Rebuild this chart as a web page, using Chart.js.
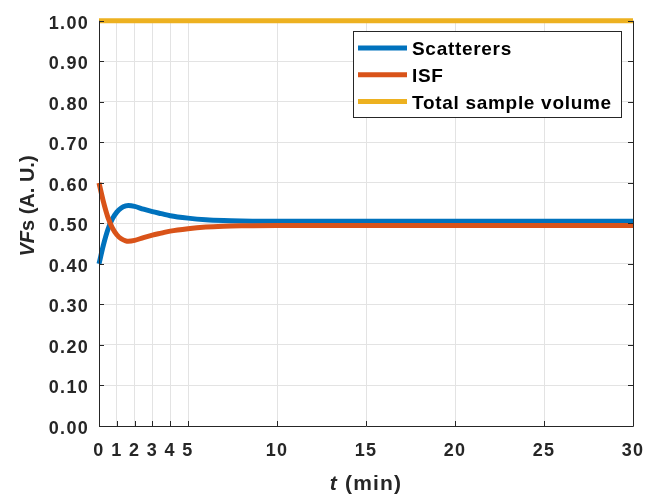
<!DOCTYPE html>
<html>
<head>
<meta charset="utf-8">
<script src="https://cdn.jsdelivr.net/npm/chart.js@4"></script>
<style>
    html, body { margin: 0; padding: 0; background: #ffffff; }
    #wrap { width: 660px; height: 497px; }
</style>
</head>
<body>
<div id="wrap"><canvas id="chart" width="660" height="497"></canvas></div>
<script>
const timeMin = [0, 0.25, 0.5, 0.75, 1, 1.25, 1.5, 1.65, 2, 2.5, 3, 3.5, 4, 5, 6, 7, 8, 10, 15, 20, 25, 30];
const scatterers = [0.400, 0.447, 0.485, 0.511, 0.528, 0.538, 0.543, 0.544, 0.542, 0.535, 0.529, 0.524, 0.519, 0.513, 0.509, 0.507, 0.506, 0.505, 0.505, 0.505, 0.505, 0.505];
const isf = [0.600, 0.553, 0.515, 0.489, 0.472, 0.462, 0.457, 0.456, 0.458, 0.465, 0.471, 0.476, 0.481, 0.487, 0.491, 0.493, 0.494, 0.495, 0.495, 0.495, 0.495, 0.495];
const totalVolume = [1, 1, 1, 1, 1, 1, 1, 1, 1, 1, 1, 1, 1, 1, 1, 1, 1, 1, 1, 1, 1, 1];
const seriesNames = ['Scatterers', 'ISF', 'Total sample volume'];
const seriesColors = ['#0072BD', '#D95319', '#EDB120'];
const xTicks = [0, 1, 2, 3, 4, 5, 10, 15, 20, 25, 30];
const yTicks = [0, 0.1, 0.2, 0.3, 0.4, 0.5, 0.6, 0.7, 0.8, 0.9, 1.0];

const textColor = '#262626';
const fontFamily = '"Liberation Sans", Arial, sans-serif';

function toPoints(values) {
    return timeMin.map((t, i) => ({ x: t, y: values[i] }));
}

// the reference text is a bit wider than Liberation, so space it out
const wideText = {
    id: 'wideText',
    beforeDraw(chart) {
        chart.ctx.letterSpacing = '1.3px';
    }
};

// axis titles, inner ticks, box and legend, drawn the matlab way
const matlabBits = {
    id: 'matlabBits',
    afterDatasetsDraw(chart) {
        const c = chart.ctx;
        const area = chart.chartArea;
        const xs = chart.scales.x;
        const ys = chart.scales.y;

        c.save();
        c.strokeStyle = textColor;
        c.lineWidth = 1;
        c.beginPath();
        c.moveTo(area.left + 0.5, area.top);
        c.lineTo(area.left + 0.5, area.bottom + 0.5);
        c.lineTo(area.right + 0.5, area.bottom + 0.5);
        c.lineTo(area.right + 0.5, area.top);
        yTicks.forEach(v => {
            const y = Math.round(ys.getPixelForValue(v)) + 0.5;
            c.moveTo(area.left, y);
            c.lineTo(area.left + 5, y);
            c.moveTo(area.right, y);
            c.lineTo(area.right - 5, y);
        });
        xTicks.forEach(v => {
            const x = Math.round(xs.getPixelForValue(v)) + 0.5;
            c.moveTo(x, area.bottom);
            c.lineTo(x, area.bottom - 5);
        });
        c.stroke();

        // legend box
        const lx = 353, ly = 31, lw = 268, lh = 86;
        c.fillStyle = '#ffffff';
        c.fillRect(lx, ly, lw, lh);
        c.strokeStyle = '#262626';
        c.strokeRect(lx + 0.5, ly + 0.5, lw, lh);
        c.font = 'bold 19px ' + fontFamily;
        c.letterSpacing = '0.7px';
        c.textBaseline = 'middle';
        c.textAlign = 'left';
        seriesNames.forEach((name, i) => {
            const y = 48 + i * 26.7;
            c.strokeStyle = seriesColors[i];
            c.lineWidth = 5;
            c.beginPath();
            c.moveTo(lx + 5, y);
            c.lineTo(lx + 54, y);
            c.stroke();
            c.fillStyle = '#000000';
            c.fillText(name, lx + 59, y + 2);
        });

        // x title: italic t + (min)
        c.fillStyle = textColor;
        c.letterSpacing = '1.2px';
        const xTitleY = 484;
        c.font = 'italic bold 21px ' + fontFamily;
        const tW = c.measureText('t').width;
        c.font = 'bold 21px ' + fontFamily;
        const restX = ' (min)';
        const rW = c.measureText(restX).width;
        let x0 = (area.left + area.right) / 2 - (tW + rW) / 2;
        c.font = 'italic bold 21px ' + fontFamily;
        c.fillText('t', x0, xTitleY);
        c.font = 'bold 21px ' + fontFamily;
        c.fillText(restX, x0 + tW, xTitleY);

        // y title: italic VF + s (A. U.)
        c.letterSpacing = '0px';
        c.translate(28, 206);
        c.rotate(-Math.PI / 2);
        c.font = 'italic bold 20px ' + fontFamily;
        const vfW = c.measureText('VF').width;
        c.font = 'bold 20px ' + fontFamily;
        const restY = 's (A. U.)';
        const ryW = c.measureText(restY).width;
        x0 = -(vfW + ryW) / 2;
        c.font = 'italic bold 20px ' + fontFamily;
        c.fillText('VF', x0, 0);
        c.font = 'bold 20px ' + fontFamily;
        c.fillText(restY, x0 + vfW, 0);
        c.restore();
    }
};

const allSeries = [scatterers, isf, totalVolume];

new Chart(document.getElementById('chart'), {
    type: 'line',
    data: {
        datasets: allSeries.map((values, i) => ({
            label: seriesNames[i],
            data: toPoints(values),
            borderColor: seriesColors[i],
            backgroundColor: seriesColors[i],
            borderWidth: 5,
            pointRadius: 0,
            cubicInterpolationMode: 'monotone',
            clip: 6,
            order: 2 - i
        }))
    },
    options: {
        responsive: false,
        animation: false,
        layout: { padding: { top: 18, right: 27, left: 0, bottom: 0 } },
        plugins: {
            legend: { display: false },
            tooltip: { enabled: false }
        },
        scales: {
            x: {
                type: 'linear',
                min: 0,
                max: 30,
                afterBuildTicks: (axis) => {
                    axis.ticks = xTicks.map(v => ({ value: v }));
                },
                afterFit: (axis) => { axis.height = 71; },
                border: { display: false },
                grid: { color: '#e3e3e3', drawTicks: false },
                ticks: {
                    autoSkip: false,
                    maxRotation: 0,
                    padding: 14,
                    color: textColor,
                    font: { family: fontFamily, size: 18, weight: 'bold' },
                    callback: (v) => String(v)
                }
            },
            y: {
                min: 0,
                max: 1,
                afterBuildTicks: (axis) => {
                    axis.ticks = yTicks.map(v => ({ value: v }));
                },
                afterFit: (axis) => { axis.width = 99; },
                border: { display: false },
                grid: { color: '#e3e3e3', drawTicks: false },
                ticks: {
                    padding: 10,
                    labelOffset: 3,
                    color: textColor,
                    font: { family: fontFamily, size: 18, weight: 'bold' },
                    callback: (v) => Number(v).toFixed(2)
                }
            }
        }
    },
    plugins: [wideText, matlabBits]
});
</script>
</body>
</html>
